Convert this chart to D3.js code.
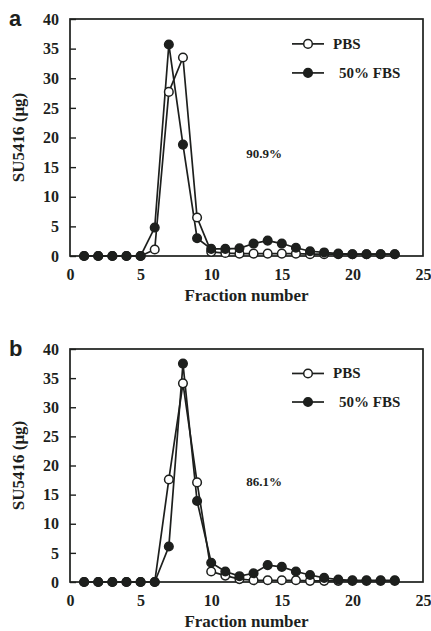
<!DOCTYPE html>
<html><head><meta charset="utf-8">
<script src="https://cdn.jsdelivr.net/npm/d3@7"></script>
<style>body{margin:0;background:#fff}svg{display:block}</style>
</head><body>
<script>
const fractions = d3.range(1, 24);
const yTicks = [0,5,10,15,20,25,30,35,40];
const xTicks = [0,5,10,15,20,25];
const seriesNames = ["PBS", "50% FBS"];
const panelLabels = ["a", "b"];
const percentLabels = ["90.9%", "86.1%"];
// panel a
const pbsA = [0,0,0,0,0,1.1,27.7,33.5,6.5,0.7,0.5,0.4,0.4,0.4,0.4,0.4,0.3,0.3,0.3,0.3,0.3,0.3,0.3];
const fbsA = [0,0,0,0,0,4.8,35.7,18.8,3.0,1.2,1.2,1.3,2.1,2.6,2.1,1.4,0.8,0.6,0.4,0.3,0.3,0.3,0.3];
// panel b
const pbsB = [0,0,0,0,0,0,17.6,34.1,17.1,1.8,1.1,0.5,0.3,0.3,0.3,0.3,0.2,0.2,0.2,0.2,0.2,0.2,0.2];
const fbsB = [0,0,0,0,0,0,6.1,37.5,13.9,3.3,1.8,1.0,1.5,2.9,2.6,1.8,1.2,0.7,0.4,0.3,0.3,0.3,0.3];

const W = 431, H = 631;
const svg = d3.select("body").append("svg").attr("width", W).attr("height", H);
const ink = "#1d1f1d";
const serif = "'Liberation Serif','Times New Roman',serif";

const panels = [
  {top: 19, bottom: 256, pbs: pbsA, fbs: fbsA},
  {top: 349, bottom: 582, pbs: pbsB, fbs: fbsB}
];

panels.forEach((p, i) => {
  const x = d3.scaleLinear().domain([0, 25]).range([70, 423]);
  const y = d3.scaleLinear().domain([0, 40]).range([p.bottom, p.top]);
  const g = svg.append("g");

  // frame
  g.append("rect").attr("x", x(0)).attr("y", y(40))
    .attr("width", x(25) - x(0)).attr("height", y(0) - y(40))
    .attr("fill", "none").attr("stroke", ink).attr("stroke-width", 1.7);

  // y axis (inward ticks)
  const ya = g.append("g").attr("transform", `translate(${x(0)},0)`)
    .call(d3.axisLeft(y).tickValues(yTicks).tickSize(-6).tickPadding(11));
  ya.select(".domain").remove();
  ya.selectAll("line").attr("stroke", ink).attr("stroke-width", 1.4);
  ya.selectAll("text").attr("font-family", serif).attr("font-weight", "bold")
    .attr("font-size", 16).attr("fill", ink);

  // x axis
  const xa = g.append("g").attr("transform", `translate(0,${y(0)})`)
    .call(d3.axisBottom(x).tickValues(xTicks).tickSize(0).tickPadding(13));
  xa.select(".domain").remove();
  xa.selectAll("text").attr("font-family", serif).attr("font-weight", "bold")
    .attr("font-size", 16).attr("fill", ink);

  // axis titles
  g.append("text").attr("x", (x(0) + x(25)) / 2).attr("y", y(0) + 45)
    .attr("text-anchor", "middle").attr("font-family", serif).attr("font-weight", "bold")
    .attr("font-size", 17).attr("fill", ink).text("Fraction number");
  g.append("text").attr("transform", `translate(24,${(y(0) + y(40)) / 2}) rotate(-90)`)
    .attr("text-anchor", "middle").attr("font-family", serif).attr("font-weight", "bold")
    .attr("font-size", 17).attr("fill", ink).text("SU5416 (μg)");

  // panel label
  g.append("text").attr("x", 9).attr("y", y(40) + 7)
    .attr("font-family", "'Liberation Sans',Arial,sans-serif").attr("font-weight", "bold")
    .attr("font-size", 22).attr("fill", ink).text(panelLabels[i]);

  // percent annotation
  g.append("text").attr("x", 264).attr("y", y(16.5))
    .attr("text-anchor", "middle").attr("font-family", serif).attr("font-weight", "bold")
    .attr("font-size", 13).attr("fill", ink).text(percentLabels[i]);

  const line = d3.line().x((d, k) => x(fractions[k])).y(d => y(d));
  const series = [
    {vals: p.pbs, fill: "#fff"},
    {vals: p.fbs, fill: ink}
  ];
  // lines
  series.forEach(s => {
    g.append("path").datum(s.vals).attr("d", line)
      .attr("fill", "none").attr("stroke", ink).attr("stroke-width", 1.7);
  });
  // markers: PBS open first, FBS filled on top
  series.forEach(s => {
    g.append("g").selectAll("circle").data(s.vals).join("circle")
      .attr("cx", (d, k) => x(fractions[k])).attr("cy", d => y(d)).attr("r", 4.3)
      .attr("fill", s.fill).attr("stroke", ink).attr("stroke-width", 1.5);
  });

  // legend
  const legY = [y(35.8), y(30.9)];
  const legFill = ["#fff", ink];
  seriesNames.forEach((name, k) => {
    g.append("line").attr("x1", 292).attr("x2", 324).attr("y1", legY[k]).attr("y2", legY[k])
      .attr("stroke", ink).attr("stroke-width", 1.7);
    g.append("circle").attr("cx", 308).attr("cy", legY[k]).attr("r", 4.3)
      .attr("fill", legFill[k]).attr("stroke", ink).attr("stroke-width", 1.5);
    g.append("text").attr("x", k === 0 ? 333 : 339).attr("y", legY[k] + 5)
      .attr("font-family", serif).attr("font-weight", "bold")
      .attr("font-size", 15).attr("fill", ink).text(name);
  });
});
</script>
</body></html>
